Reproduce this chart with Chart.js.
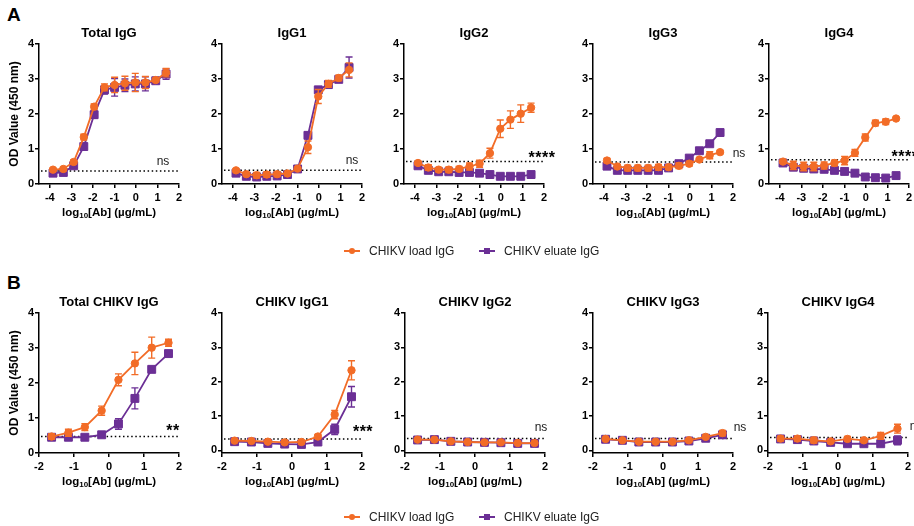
<!DOCTYPE html>
<html>
<head>
<meta charset="utf-8">
<script src="https://cdn.jsdelivr.net/npm/chart.js@4.4.1/dist/chart.umd.min.js"></script>
<style>
  body { margin: 0; background: #fff; }
  #fig { position: relative; width: 914px; height: 526px; overflow: hidden; font-family: "Liberation Sans", Arial, sans-serif; }
  #fig canvas { position: absolute; }
  .letter { position: absolute; font-weight: bold; font-size: 19px; color: #000; }
  .leg { position: absolute; font-size: 12px; color: #222; line-height: 14px; }
  .line { position: absolute; height: 2px; width: 16px; }
  .dot { position: absolute; width: 6px; height: 6px; }
</style>
</head>
<body>
<div id="fig">
  <div class="letter" style="left:7px;top:4px">A</div>
  <div class="letter" style="left:7px;top:272px">B</div>
</div>
<script>
const ORANGE = "#f26c27";
const PURPLE = "#6b2f95";

// x positions (log10 µg/mL), 3-fold dilutions
const xA = [-3.85, -3.37, -2.89, -2.42, -1.94, -1.46, -0.99, -0.51, -0.03, 0.44, 0.92, 1.40];
const xB = [-1.64, -1.16, -0.69, -0.21, 0.27, 0.74, 1.22, 1.70];
const xTicksA = [-4, -3, -2, -1, 0, 1, 2];
const xTicksB = [-2, -1, 0, 1, 2];
const yTicks = [0, 1, 2, 3, 4];

// panel A
const loadTotal    = [0.41, 0.43, 0.63, 1.34, 2.21, 2.76, 2.83, 2.88, 2.90, 2.90, 2.97, 3.18];
const loadTotalErr = [0.04, 0.05, 0.06, 0.08, 0.08, 0.10, 0.22, 0.20, 0.26, 0.17, 0.06, 0.12];
const eluTotal     = [0.31, 0.33, 0.52, 1.07, 1.98, 2.69, 2.76, 2.82, 2.86, 2.86, 2.95, 3.14];
const eluTotalErr  = [0.04, 0.04, 0.05, 0.05, 0.10, 0.12, 0.25, 0.18, 0.20, 0.20, 0.05, 0.15];

const loadG1    = [0.39, 0.28, 0.25, 0.27, 0.28, 0.30, 0.44, 1.05, 2.50, 2.86, 3.03, 3.26];
const loadG1Err = [0.04, 0.06, 0.08, 0.08, 0.07, 0.06, 0.05, 0.18, 0.20, 0.10, 0.08, 0.20];
const eluG1     = [0.31, 0.22, 0.20, 0.22, 0.23, 0.27, 0.43, 1.39, 2.69, 2.84, 2.99, 3.33];
const eluG1Err  = [0.04, 0.05, 0.06, 0.07, 0.06, 0.05, 0.05, 0.08, 0.08, 0.10, 0.06, 0.30];

const loadG2    = [0.60, 0.47, 0.41, 0.41, 0.43, 0.50, 0.58, 0.88, 1.58, 1.84, 2.01, 2.18];
const loadG2Err = [0.05, 0.08, 0.06, 0.08, 0.07, 0.10, 0.10, 0.14, 0.25, 0.25, 0.25, 0.13];
const eluG2     = [0.52, 0.39, 0.35, 0.35, 0.33, 0.33, 0.31, 0.27, 0.22, 0.22, 0.22, 0.27];
const eluG2Err  = [0.04, 0.04, 0.04, 0.04, 0.04, 0.04, 0.04, 0.03, 0.03, 0.03, 0.03, 0.03];

const loadG3    = [0.67, 0.50, 0.46, 0.46, 0.46, 0.48, 0.48, 0.52, 0.58, 0.70, 0.82, 0.91];
const loadG3Err = [0.06, 0.06, 0.08, 0.08, 0.08, 0.08, 0.07, 0.08, 0.07, 0.05, 0.10, 0.05];
const eluG3     = [0.51, 0.39, 0.39, 0.39, 0.39, 0.39, 0.46, 0.58, 0.74, 0.95, 1.15, 1.47];
const eluG3Err  = [0.03, 0.03, 0.03, 0.03, 0.03, 0.03, 0.03, 0.03, 0.03, 0.03, 0.03, 0.03];

const loadG4    = [0.64, 0.53, 0.50, 0.50, 0.53, 0.60, 0.67, 0.89, 1.33, 1.74, 1.78, 1.87];
const loadG4Err = [0.05, 0.12, 0.12, 0.12, 0.10, 0.08, 0.12, 0.10, 0.10, 0.08, 0.08, 0.03];
const eluG4     = [0.60, 0.48, 0.45, 0.43, 0.42, 0.39, 0.36, 0.31, 0.20, 0.18, 0.17, 0.24];
const eluG4Err  = [0.04, 0.06, 0.04, 0.04, 0.03, 0.03, 0.03, 0.03, 0.03, 0.03, 0.03, 0.04];

// panel B
const loadCTotal    = [0.47, 0.58, 0.74, 1.21, 2.09, 2.56, 3.01, 3.15];
const loadCTotalErr = [0.08, 0.10, 0.10, 0.13, 0.17, 0.32, 0.30, 0.10];
const eluCTotal     = [0.45, 0.45, 0.45, 0.52, 0.83, 1.56, 2.39, 2.84];
const eluCTotalErr  = [0.03, 0.03, 0.03, 0.05, 0.15, 0.30, 0.08, 0.05];

const loadCG1    = [0.28, 0.27, 0.25, 0.23, 0.24, 0.40, 1.04, 2.33];
const loadCG1Err = [0.04, 0.04, 0.04, 0.06, 0.05, 0.06, 0.12, 0.28];
const eluCG1     = [0.25, 0.24, 0.20, 0.18, 0.17, 0.24, 0.61, 1.56];
const eluCG1Err  = [0.03, 0.03, 0.04, 0.05, 0.04, 0.03, 0.15, 0.30];

const loadCG2    = [0.31, 0.31, 0.26, 0.24, 0.23, 0.23, 0.21, 0.21];
const loadCG2Err = [0.03, 0.03, 0.03, 0.03, 0.03, 0.03, 0.03, 0.03];
const eluCG2     = [0.30, 0.31, 0.26, 0.24, 0.23, 0.22, 0.20, 0.20];
const eluCG2Err  = [0.03, 0.03, 0.03, 0.03, 0.03, 0.03, 0.03, 0.03];

const loadCG3    = [0.33, 0.29, 0.25, 0.25, 0.25, 0.29, 0.39, 0.50];
const loadCG3Err = [0.03, 0.03, 0.03, 0.03, 0.03, 0.04, 0.05, 0.08];
const eluCG3     = [0.32, 0.29, 0.24, 0.24, 0.24, 0.27, 0.35, 0.45];
const eluCG3Err  = [0.03, 0.03, 0.03, 0.03, 0.03, 0.03, 0.04, 0.10];

const loadCG4    = [0.34, 0.34, 0.29, 0.26, 0.33, 0.29, 0.42, 0.63];
const loadCG4Err = [0.07, 0.07, 0.08, 0.05, 0.07, 0.06, 0.10, 0.13];
const eluCG4     = [0.33, 0.31, 0.27, 0.23, 0.19, 0.19, 0.19, 0.29];
const eluCG4Err  = [0.06, 0.06, 0.06, 0.05, 0.05, 0.05, 0.05, 0.13];

const titles = ["Total IgG", "IgG1", "IgG2", "IgG3", "IgG4",
                "Total CHIKV IgG", "CHIKV IgG1", "CHIKV IgG2", "CHIKV IgG3", "CHIKV IgG4"];
const cutoffs = [0.37, 0.39, 0.64, 0.63, 0.69, 0.47, 0.33, 0.34, 0.34, 0.37];
const sigLabels = ["ns", "ns", "****", "ns", "****", "**", "***", "ns", "ns", "ns"];
const seriesNames = ["CHIKV load IgG", "CHIKV eluate IgG"];

const FONT = '"Liberation Sans", Arial, sans-serif';

// layout: chart area left edge of each panel, row tops, label offsets
const panels = [
  { x: xA, xt: xTicksA, xmin: -4.5, ymin: 0,     left: 39,  top: 0,   load: loadTotal,  loadErr: loadTotalErr,  elu: eluTotal,  eluErr: eluTotalErr,  sdx: -16, sdy: -9 },
  { x: xA, xt: xTicksA, xmin: -4.5, ymin: 0,     left: 222, top: 0,   load: loadG1,     loadErr: loadG1Err,     elu: eluG1,     eluErr: eluG1Err,     sdx: -10, sdy: -10 },
  { x: xA, xt: xTicksA, xmin: -4.5, ymin: 0,     left: 404, top: 0,   load: loadG2,     loadErr: loadG2Err,     elu: eluG2,     eluErr: eluG2Err,     sdx: -2,  sdy: -7 },
  { x: xA, xt: xTicksA, xmin: -4.5, ymin: 0,     left: 593, top: 0,   load: loadG3,     loadErr: loadG3Err,     elu: eluG3,     eluErr: eluG3Err,     sdx: 6,   sdy: -8 },
  { x: xA, xt: xTicksA, xmin: -4.5, ymin: 0,     left: 769, top: 0,   load: loadG4,     loadErr: loadG4Err,     elu: eluG4,     eluErr: eluG4Err,     sdx: -4,  sdy: -6 },
  { x: xB, xt: xTicksB, xmin: -2,   ymin: 0,     left: 39,  top: 269, load: loadCTotal, loadErr: loadCTotalErr, elu: eluCTotal, eluErr: eluCTotalErr, sdx: -6,  sdy: -9 },
  { x: xB, xt: xTicksB, xmin: -2,   ymin: -0.08, left: 222, top: 269, load: loadCG1,    loadErr: loadCG1Err,    elu: eluCG1,    eluErr: eluCG1Err,    sdx: 1,   sdy: -10 },
  { x: xB, xt: xTicksB, xmin: -2,   ymin: -0.08, left: 405, top: 269, load: loadCG2,    loadErr: loadCG2Err,    elu: eluCG2,    eluErr: eluCG2Err,    sdx: -4,  sdy: -11 },
  { x: xB, xt: xTicksB, xmin: -2,   ymin: -0.08, left: 593, top: 269, load: loadCG3,    loadErr: loadCG3Err,    elu: eluCG3,    eluErr: eluCG3Err,    sdx: 7,   sdy: -11 },
  { x: xB, xt: xTicksB, xmin: -2,   ymin: -0.08, left: 768, top: 269, load: loadCG4,    loadErr: loadCG4Err,    elu: eluCG4,    eluErr: eluCG4Err,    sdx: 8,   sdy: -11 }
];

const panelText = {
  id: "panelText",
  beforeDatasetsDraw(chart, args, o) {
    const ctx = chart.ctx, a = chart.chartArea;
    const y = chart.scales.y.getPixelForValue(o.cutoff);
    ctx.save();
    ctx.strokeStyle = "#000";
    ctx.lineWidth = 1.5;
    ctx.setLineDash([1.5, 2.6]);
    ctx.beginPath();
    ctx.moveTo(a.left + 2, y);
    ctx.lineTo(a.right, y);
    ctx.stroke();
    ctx.restore();
  },
  beforeDatasetDraw(chart, args, o) {
    const ctx = chart.ctx, ys = chart.scales.y;
    const ds = chart.data.datasets[args.index];
    const errs = o.errs[args.index];
    ctx.save();
    ctx.strokeStyle = ds.borderColor;
    ctx.lineWidth = 1.4;
    args.meta.data.forEach((pt, i) => {
      const v = ds.data[i].y, e = errs[i];
      const y1 = ys.getPixelForValue(v - e), y2 = ys.getPixelForValue(v + e);
      ctx.beginPath();
      ctx.moveTo(pt.x, y1); ctx.lineTo(pt.x, y2);
      ctx.moveTo(pt.x - 3.5, y1); ctx.lineTo(pt.x + 3.5, y1);
      ctx.moveTo(pt.x - 3.5, y2); ctx.lineTo(pt.x + 3.5, y2);
      ctx.stroke();
    });
    ctx.restore();
  },
  afterDraw(chart, args, o) {
    const ctx = chart.ctx, a = chart.chartArea;
    const cx = (a.left + a.right) / 2;
    ctx.save();
    ctx.fillStyle = "#000";
    ctx.textBaseline = "middle";
    // title
    ctx.textAlign = "center";
    ctx.font = "bold 13px " + FONT;
    ctx.fillText(o.title, cx, a.top - 11);
    // x title with subscript
    const big = "bold 11.5px " + FONT, small = "bold 8px " + FONT;
    ctx.font = big;
    const w1 = ctx.measureText("log").width, w3 = ctx.measureText("[Ab] (\u00b5g/mL)").width;
    ctx.font = small;
    const w2 = ctx.measureText("10").width;
    let x = cx - (w1 + w2 + w3) / 2;
    const ty = a.bottom + 29;
    ctx.textAlign = "left";
    ctx.font = big; ctx.fillText("log", x, ty); x += w1;
    ctx.font = small; ctx.fillText("10", x, ty + 3); x += w2;
    ctx.font = big; ctx.fillText("[Ab] (\u00b5g/mL)", x, ty);
    // y title
    if (o.yTitle) {
      ctx.save();
      ctx.translate(a.left - 24, (a.top + a.bottom) / 2);
      ctx.rotate(-Math.PI / 2);
      ctx.textAlign = "center";
      ctx.font = "bold 12px " + FONT;
      ctx.fillText("OD Value (450 nm)", 0, 0);
      ctx.restore();
    }
    // significance
    const sy = chart.scales.y.getPixelForValue(o.cutoff) + o.sdy;
    ctx.textAlign = "center";
    if (o.sig === "ns") {
      ctx.font = "12px " + FONT;
      ctx.fillStyle = "#222";
      ctx.fillText(o.sig, a.right + o.sdx, sy);
    } else {
      ctx.font = "bold 16px " + FONT;
      if (ctx.letterSpacing !== undefined) ctx.letterSpacing = "0.5px";
      ctx.fillText(o.sig, a.right + o.sdx, sy + 4);
    }
    ctx.restore();
  }
};

const fig = document.getElementById("fig");

function axisStyle() {
  return {
    grid: { display: true, drawOnChartArea: false, drawTicks: true, tickLength: 4, color: "#000", lineWidth: 1.5 },
    border: { display: true, color: "#000", width: 1.5 },
    ticks: { color: "#000", font: { family: FONT, size: 11, weight: "bold" }, autoSkip: false, maxRotation: 0 }
  };
}

panels.forEach((p, k) => {
  const cv = document.createElement("canvas");
  cv.width = 200; cv.height = 234;
  cv.style.left = (p.left - 40) + "px";
  cv.style.top = p.top + "px";
  fig.appendChild(cv);

  const xs = axisStyle(), ys = axisStyle();
  xs.ticks.padding = 3;
  ys.ticks.padding = 1;

  new Chart(cv, {
    type: "line",
    data: {
      datasets: [
        { label: seriesNames[0], data: p.x.map((x, i) => ({ x, y: p.load[i] })),
          borderColor: ORANGE, backgroundColor: ORANGE, borderWidth: 1.8,
          pointStyle: "circle", pointRadius: 3.7, pointBorderWidth: 1 },
        { label: seriesNames[1], data: p.x.map((x, i) => ({ x, y: p.elu[i] })),
          borderColor: PURPLE, backgroundColor: PURPLE, borderWidth: 1.8,
          pointStyle: "rect", pointRadius: 5.6, pointBorderWidth: 1 }
      ]
    },
    options: {
      responsive: false,
      animation: false,
      events: [],
      layout: { padding: { left: 0, top: 44, right: 20, bottom: 0 } },
      plugins: {
        legend: { display: false },
        tooltip: { enabled: false },
        panelText: {
          title: titles[k], cutoff: cutoffs[k], sig: sigLabels[k],
          sdx: p.sdx, sdy: p.sdy, yTitle: k % 5 === 0,
          errs: [p.loadErr, p.eluErr]
        }
      },
      scales: {
        x: Object.assign(xs, {
          type: "linear", min: p.xmin, max: 2,
          afterBuildTicks: s => { s.ticks = p.xt.map(v => ({ value: v })); },
          afterFit: s => { s.height = 50; s.paddingLeft = 0; s.paddingRight = 0; }
        }),
        y: Object.assign(ys, {
          type: "linear", min: p.ymin, max: 4,
          afterBuildTicks: s => { s.ticks = yTicks.map(v => ({ value: v })); },
          afterFit: s => { s.width = 40; s.paddingTop = 0; s.paddingBottom = 0; }
        })
      }
    },
    plugins: [panelText]
  });
});

// legends under each row
[250.7, 516.7].forEach(cy => {
  [[344, ORANGE, "50%", seriesNames[0], 369], [479, PURPLE, "0", seriesNames[1], 504]].forEach(([lx, col, rad, txt, tx]) => {
    const ln = document.createElement("div");
    ln.className = "line";
    ln.style.cssText = `left:${lx}px;top:${cy - 1}px;background:${col}`;
    const dt = document.createElement("div");
    dt.className = "dot";
    dt.style.cssText = `left:${lx + 5}px;top:${cy - 3}px;background:${col};border-radius:${rad}`;
    const tt = document.createElement("div");
    tt.className = "leg";
    tt.style.cssText = `left:${tx}px;top:${cy - 7}px`;
    tt.textContent = txt;
    fig.append(ln, dt, tt);
  });
});
</script>
</body>
</html>
